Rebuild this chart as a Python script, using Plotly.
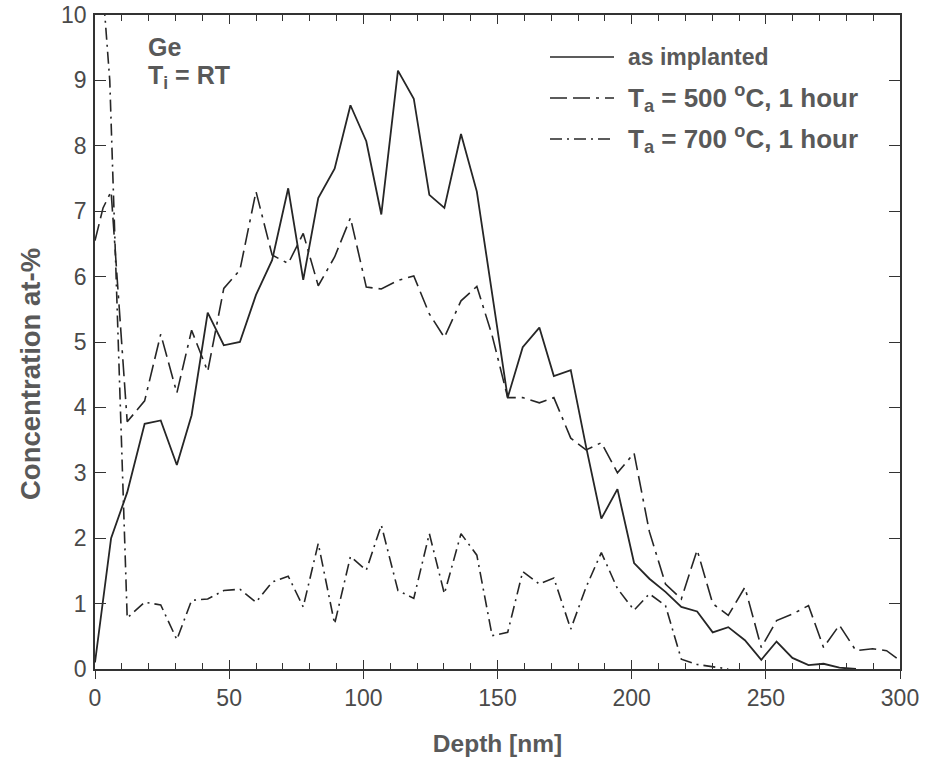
import plotly.graph_objects as go

# ---------------- data ----------------
depth_as = [0, 6, 12, 18.5, 24.5, 30.5, 36, 42, 48, 54, 60, 66, 72, 77.6, 83.2, 89.3,
            95.2, 101.1, 106.7, 112.9, 118.8, 124.6, 130.2, 136.4, 142.3, 148, 153.8,
            159.4, 165.6, 171, 177.3, 183, 188.7, 194.7, 200.9, 206.6, 212.6, 218.5,
            224.4, 230.2, 236, 242.2, 248.3, 254, 259.9, 265.9, 271.5, 277.4, 283.6]
conc_as = [0.1, 2.0, 2.7, 3.75, 3.8, 3.12, 3.88, 5.45, 4.95, 5.0, 5.72, 6.25, 7.35, 5.95,
           7.2, 7.65, 8.62, 8.07, 6.95, 9.15, 8.72, 7.25, 7.05, 8.18, 7.3, 5.75, 4.15,
           4.92, 5.22, 4.48, 4.57, 3.4, 2.3, 2.75, 1.62, 1.38, 1.18, 0.95, 0.88, 0.56,
           0.64, 0.44, 0.14, 0.42, 0.17, 0.06, 0.08, 0.02, 0.0]

depth_500 = [0, 3, 6, 12, 18.5, 24.5, 30.5, 36, 42, 48, 54, 60, 66, 72, 77.6, 83.2, 89.3,
             95.2, 101.1, 106.7, 112.9, 118.8, 124.6, 130.2, 136.4, 142.3, 148, 153.8,
             159.4, 165.6, 171, 177.3, 183, 188.7, 194.7, 200.9, 206.6, 212.6, 218.5,
             224.4, 230.2, 236, 242.2, 248.3, 254, 259.9, 265.9, 271.5, 277.4, 283.6,
             289.8, 295, 300]
conc_500 = [6.55, 7.05, 7.3, 3.78, 4.1, 5.12, 4.22, 5.18, 4.55, 5.82, 6.1, 7.3, 6.33, 6.2,
            6.66, 5.86, 6.3, 6.9, 5.84, 5.81, 5.94, 6.01, 5.43, 5.07, 5.63, 5.85, 5.1,
            4.15, 4.15, 4.07, 4.15, 3.53, 3.35, 3.46, 3.0, 3.3, 2.1, 1.3, 1.07, 1.82,
            1.0, 0.82, 1.25, 0.33, 0.74, 0.84, 0.97, 0.33, 0.67, 0.28, 0.31, 0.28, 0.13]

depth_700 = [0, 5.5, 12, 18.5, 24.5, 30.5, 36, 42, 48, 54, 60, 66, 72, 77.6, 83.2, 89.3,
             95.2, 101.1, 106.7, 112.9, 118.8, 124.6, 130.2, 136.4, 142.3, 148, 153.8,
             159.4, 165.6, 171, 177.3, 183, 188.7, 194.7, 200.9, 206.6, 212.6, 218.5,
             224.4, 230.2, 236]
conc_700 = [12.0, 9.0, 0.78, 1.02, 0.98, 0.45, 1.05, 1.07, 1.2, 1.22, 1.02, 1.33, 1.42,
            0.95, 1.92, 0.69, 1.72, 1.51, 2.2, 1.2, 1.08, 2.07, 1.15, 2.07, 1.74, 0.51,
            0.56, 1.49, 1.3, 1.39, 0.61, 1.25, 1.78, 1.23, 0.9, 1.15, 0.97, 0.15, 0.07,
            0.03, 0.0]

x_ticks = [0, 50, 100, 150, 200, 250, 300]
y_ticks = list(range(0, 11))

series_names = ["as implanted", "T<sub>a</sub> = 500 <sup>o</sup>C, 1 hour",
                "T<sub>a</sub> = 700 <sup>o</sup>C, 1 hour"]

# ---------------- styles ----------------
LINE = "#262626"
TXT = "#595959"
FONT = "Liberation Sans, Arial, sans-serif"
DASH_500 = "17px,6px,17px,6px,3px,6px"
DASH_700 = "12px,5px,2px,5px"
styles = [dict(color=LINE, width=1.8, dash="solid"),
          dict(color=LINE, width=1.6, dash=DASH_500),
          dict(color=LINE, width=1.6, dash=DASH_700)]

fig = go.Figure()
for (dx, cy), name, st in zip([(depth_as, conc_as), (depth_500, conc_500), (depth_700, conc_700)],
                              series_names, styles):
    fig.add_trace(go.Scatter(x=dx, y=cy, mode="lines", name=name, line=st,
                             showlegend=False, cliponaxis=True))

# ---------------- manual legend ----------------
L, T, H = 95, 15, 654
W = 805
def px_x(p):
    return (p - L) / W
def px_y(p):
    return (669 - p) / H

legend_rows = [57, 98, 139]
legend_sizes = [23, 26, 26]
for row_y, name, st, fs in zip(legend_rows, series_names, styles, legend_sizes):
    fig.add_shape(type="line", xref="paper", yref="paper",
                  x0=px_x(550), x1=px_x(614), y0=px_y(row_y), y1=px_y(row_y),
                  line=dict(color=LINE, width=1.5, dash=st["dash"]))
    fig.add_annotation(xref="paper", yref="paper", x=px_x(626), y=px_y(row_y),
                       text="<b>" + name + "</b>", showarrow=False,
                       xanchor="left", yanchor="middle",
                       font=dict(family=FONT, size=fs, color=TXT))

fig.add_annotation(xref="paper", yref="paper", x=px_x(146), y=px_y(47),
                   text="<b>Ge</b>", showarrow=False, xanchor="left", yanchor="middle",
                   font=dict(family=FONT, size=25, color=TXT))
fig.add_annotation(xref="paper", yref="paper", x=px_x(146), y=px_y(77),
                   text="<b>T<sub>i</sub> = RT</b>", showarrow=False, xanchor="left",
                   yanchor="middle", font=dict(family=FONT, size=25, color=TXT))

# y-axis title placed as rotated annotation (sits below the plot centre in the reference)
fig.add_annotation(xref="paper", yref="paper", x=px_x(30), y=px_y(374),
                   text="<b>Concentration at-%</b>", textangle=-90, showarrow=False,
                   xanchor="center", yanchor="middle",
                   font=dict(family=FONT, size=27.5, color=TXT))

axis_common = dict(showgrid=False, zeroline=False, showline=True, linecolor="#333333",
                   linewidth=1.5, tickcolor="#333333", automargin=False,
                   tickfont=dict(family=FONT, size=23, color="#4a4a4a"))

fig.update_layout(
    width=925, height=768,
    margin=dict(l=L, r=925 - L - W, t=T, b=768 - T - H),
    paper_bgcolor="white", plot_bgcolor="white",
    xaxis=dict(range=[0, 300], tickvals=x_ticks, ticks="inside", ticklen=9, tickwidth=1.3,
               mirror="ticks",
               minor=dict(dtick=10, ticks="inside", ticklen=6, tickwidth=1.1, tickcolor="#333333"),
               title=dict(text="<b>Depth [nm]</b>", standoff=25,
                          font=dict(family=FONT, size=24.5, color=TXT)),
               ticklabelstandoff=8,
               **axis_common),
    xaxis2=dict(range=[0, 300], overlaying="x", side="bottom", tickvals=x_ticks,
                ticks="outside", ticklen=9, tickwidth=1.3, tickcolor="#333333",
                showticklabels=False, showline=False, showgrid=False, zeroline=False),
    yaxis=dict(range=[0, 10], tickvals=y_ticks, ticks="inside", ticklen=11, tickwidth=1.3,
               mirror="ticks", ticklabelstandoff=2,
               **axis_common),
)
# invisible trace to activate the overlay axis carrying the outside tick halves
fig.add_trace(go.Scatter(x=[None], y=[None], xaxis="x2", showlegend=False, hoverinfo="skip"))

fig.write_html("out.html")
